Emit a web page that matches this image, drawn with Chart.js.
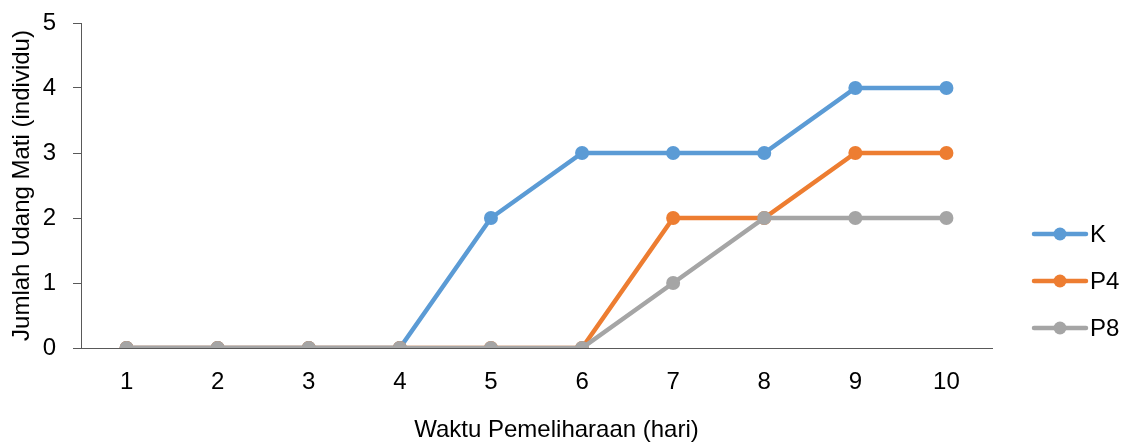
<!DOCTYPE html>
<html>
<head>
<meta charset="utf-8">
<script src="https://cdn.jsdelivr.net/npm/chart.js@4/dist/chart.umd.min.js"></script>
<style>
  html, body { margin: 0; padding: 0; background: #fff; }
  #wrap { width: 1129px; height: 443px; position: relative; }
</style>
</head>
<body>
<div id="wrap"><canvas id="lineChart"></canvas></div>
<script>
const hari = ["1", "2", "3", "4", "5", "6", "7", "8", "9", "10"];
const dataK = [0, 0, 0, 0, 2, 3, 3, 3, 4, 4];
const dataP4 = [0, 0, 0, 0, 0, 0, 2, 2, 3, 3];
const dataP8 = [0, 0, 0, 0, 0, 0, 1, 2, 2, 2];
const namaSeri = ["K", "P4", "P8"];
const warna = ["#5B9BD5", "#ED7D31", "#A5A5A5"];
const judulX = "Waktu Pemeliharaan (hari)";
const judulY = "Jumlah Udang Mati (individu)";

const fontUtama = "'Liberation Sans', Arial, sans-serif";

function seri(i, data) {
  return {
    label: namaSeri[i],
    data: data,
    borderColor: warna[i],
    backgroundColor: warna[i],
    borderWidth: 4.5,
    pointRadius: 7,
    pointHoverRadius: 7,
    pointBorderWidth: 0,
    tension: 0,
    order: 2 - i,
  };
}

// legenda di kanan (garis + titik) dan judul sumbu x, seperti gaya Excel
const legendaKanan = {
  id: "legendaKanan",
  afterDraw(chart) {
    const ctx = chart.ctx;
    const area = chart.chartArea;
    const x0 = area.right + 40;
    const yMulai = 234;
    ctx.save();
    namaSeri.forEach((nama, i) => {
      const y = yMulai + i * 47;
      ctx.strokeStyle = warna[i];
      ctx.lineWidth = 4.5;
      ctx.lineCap = "round";
      ctx.beginPath();
      ctx.moveTo(x0 + 2, y);
      ctx.lineTo(x0 + 54, y);
      ctx.stroke();
      ctx.fillStyle = warna[i];
      ctx.beginPath();
      ctx.arc(x0 + 28, y, 6.5, 0, Math.PI * 2);
      ctx.fill();
      ctx.fillStyle = "#000";
      ctx.font = "24px " + fontUtama;
      ctx.textBaseline = "middle";
      ctx.textAlign = "left";
      ctx.fillText(nama, x0 + 58, y + 1);
    });

    // judul sumbu x agak ke kanan dari tengah
    ctx.fillStyle = "#000";
    ctx.font = "24px " + fontUtama;
    ctx.textAlign = "center";
    ctx.textBaseline = "middle";
    ctx.fillText(judulX, (area.left + area.right) / 2 + 20, 430);
    ctx.restore();
  },
};

const config = {
  type: "line",
  data: {
    labels: hari,
    datasets: [seri(0, dataK), seri(1, dataP4), seri(2, dataP8)],
  },
  options: {
    responsive: true,
    maintainAspectRatio: false,
    animation: false,
    layout: { padding: { top: 0, right: 137, left: 8, bottom: 0 } },
    plugins: {
      legend: { display: false },
      tooltip: { enabled: false },
    },
    scales: {
      x: {
        offset: true,
        afterFit(scale) { scale.height = 95; },
        grid: { display: false, drawTicks: false },
        border: { color: "#595959", width: 1 },
        ticks: { color: "#000", font: { family: fontUtama, size: 24 }, padding: 20 },
      },
      y: {
        min: 0,
        max: 5,
        afterFit(scale) {
          scale.width = 73;
          scale.paddingTop = 23;
          scale.paddingBottom = 0;
        },
        ticks: { stepSize: 1, color: "#000", font: { family: fontUtama, size: 24 }, padding: 17 },
        grid: { drawOnChartArea: false, drawTicks: true, tickLength: 8, color: "#595959" },
        border: { color: "#595959", width: 1 },
        title: {
          display: true,
          text: judulY,
          color: "#000",
          font: { family: fontUtama, size: 24 },
          padding: { top: 0, bottom: 6 },
        },
      },
    },
  },
  plugins: [legendaKanan],
};

const ctx = document.getElementById("lineChart").getContext("2d");
const myChart = new Chart(ctx, config);
</script>
</body>
</html>
